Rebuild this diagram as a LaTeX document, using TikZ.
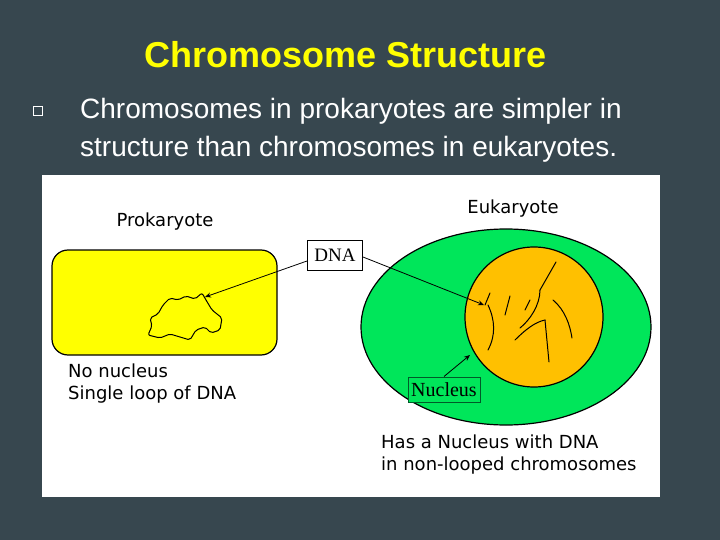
\documentclass[tikz,border=0pt]{standalone}
\usetikzlibrary{shapes.geometric,arrows.meta}
\usepackage{fontspec}
\setmainfont{Liberation Sans}
\newfontfamily\dv{DejaVu Sans}
\newfontfamily\srf{Liberation Serif}
\begin{document}
\begin{tikzpicture}[x=1pt,y=-1pt,
  lbl/.style={font=\dv\fontsize{18}{22}\selectfont,align=left,text=black,inner sep=0},
  arr/.style={-{Stealth[length=6pt,width=5pt]},line width=0.8pt}]
\useasboundingbox (0,0) rectangle (720,540);
\fill[fill={rgb,255:red,55;green,71;blue,79}] (0,0) rectangle (720,540);
\node[font=\bfseries\fontsize{36}{40}\selectfont,text={rgb,255:red,255;green,255;blue,0}] (title) at (346,55) {Chromosome Structure};
\node[draw=white,line width=0.6pt,minimum size=9pt,inner sep=0] (bul) at (38,111) {};
\node[anchor=west,font=\fontsize{28}{38}\selectfont,text=white,align=left,inner sep=0] (txt) at (80,130) {Chromosomes in prokaryotes are simpler in\\structure than chromosomes in eukaryotes.};
\fill[white] (42,175) rectangle (660,497);
\node[draw=black,line width=1.2pt,fill={rgb,255:red,255;green,255;blue,0},rounded corners=16pt,minimum width=225pt,minimum height=105pt] (pro) at (164.5,302.5) {};
\node[lbl] (prol) at (165,222) {Prokaryote};
\node[draw=black,line width=1.2pt,fill={rgb,255:red,0;green,230;blue,90},ellipse,minimum width=290pt,minimum height=196pt] (euk) at (506,327) {};
\node[draw=black,line width=1.2pt,fill={rgb,255:red,255;green,192;blue,0},ellipse,minimum width=138pt,minimum height=140pt] (nuc) at (534,317) {};
\node[lbl] (eukl) at (513,209) {Eukaryote};
\node[draw=black,fill=white,line width=1pt,font=\srf\fontsize{19}{20}\selectfont,minimum width=55pt,minimum height=30pt,inner sep=1pt] (dna) at (335,255) {DNA};
\node[draw={rgb,255:red,0;green,90;blue,40},line width=1pt,fill={rgb,255:red,0;green,230;blue,90},font=\srf\fontsize{20}{20}\selectfont,minimum width=72pt,minimum height=25pt,inner sep=1pt] (nucl) at (444,389.5) {Nucleus};
\node[lbl,anchor=north west] (pt) at (68,364) {No nucleus\\Single loop of DNA};
\node[lbl,anchor=north west] (et) at (381,435) {Has a Nucleus with DNA\\in non-looped chromosomes};
% DNA loop
\draw[line width=1pt,rounded corners=2pt] (163,305) -- (170,298) -- (178,300) -- (186,296) -- (195,299) -- (202,293) -- (206,300) -- (212,310) -- (222,318) -- (220,330) -- (211,333) -- (205,327) -- (196,330) -- (190,340) -- (180,337) -- (170,334) -- (160,338) -- (148,335) -- (152,326) -- (150,318) -- (158,314) -- cycle;
\coordinate (dl) at (205,297);
\coordinate (dr) at (484,305);
\draw[arr] (dna.west) ++(0,6) -- (dl);
\draw[arr] (dna.east) ++(0,2) -- (dr);
\coordinate (nt) at (470,355);
\draw[arr] (nucl.north) -- (nt);
% chromosomes
\begin{scope}[line width=1pt,line cap=round]
\draw (488,305) .. controls (495,320) and (496,335) .. (488,350);
\draw (485,305) -- (490,293);
\draw (505,315) -- (510,296);
\draw (520,328) .. controls (530,320) and (540,305) .. (540,290);
\draw (540,290) -- (556,262);
\draw (515,340) .. controls (525,330) and (535,322) .. (545,320);
\draw (545,320) -- (549,362);
\draw (553,300) .. controls (565,310) and (570,325) .. (572,338);
\draw (525,310) -- (530,300);
\end{scope}
\end{tikzpicture}
\end{document}
